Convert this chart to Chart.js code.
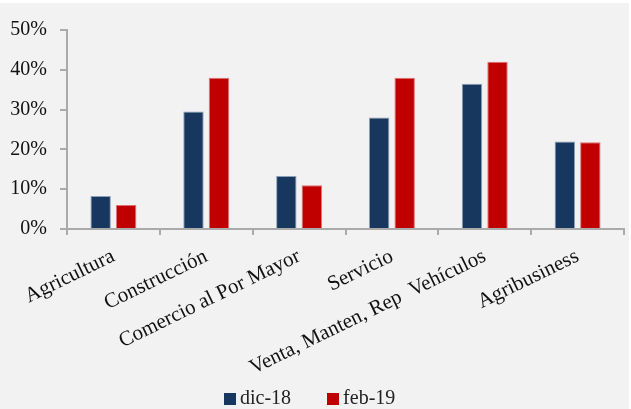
<!DOCTYPE html>
<html>
<head>
<meta charset="utf-8">
<script src="https://cdn.jsdelivr.net/npm/chart.js@4"></script>
<style>
  body { margin: 0; background: #ffffff; }
  #wrap { position: relative; width: 631px; height: 409px; }
  #legend { position: absolute; left: 224px; top: 386px; font: 20px 'Liberation Serif', 'DejaVu Serif', serif; color: #222; white-space: nowrap; }
  #legend span.item { display: inline-block; margin-right: 36px; }
  #legend span.box { display: inline-block; width: 12px; height: 12px; margin-right: 4px; vertical-align: -1px; }
</style>
</head>
<body>
<div id="wrap">
  <canvas id="myChart" width="631" height="409"></canvas>
  <div id="legend"></div>
</div>
<script>
const categories = ['Agricultura', 'Construcción', 'Comercio al Por Mayor', 'Servicio', 'Venta, Manten, Rep  Vehículos', 'Agribusiness'];
const dic18 = [8.3, 29.5, 13.3, 28.0, 36.5, 22.0];
const feb19 = [6.0, 38.0, 11.0, 38.0, 42.0, 21.8];
const seriesNames = ['dic-18', 'feb-19'];
const colors = ['#17375e', '#c00000'];

const serif = "'Liberation Serif', 'DejaVu Serif', serif";

// grey panel behind the chart, thin white edge on top and right like the original
const bgPlugin = {
  id: 'bg',
  beforeDraw(chart) {
    const c = chart.ctx;
    c.save();
    c.fillStyle = '#f2f2f2';
    c.fillRect(0, 3, chart.width - 2, chart.height - 3);
    c.restore();
  }
};

const ctx = document.getElementById('myChart');

const myChart = new Chart(ctx, {
  type: 'bar',
  data: {
    labels: categories,
    datasets: [{
      label: seriesNames[0],
      data: dic18,
      backgroundColor: colors[0],
      borderColor: '#8ea0b8',
      borderWidth: 1,
      borderSkipped: 'bottom'
    }, {
      label: seriesNames[1],
      data: feb19,
      backgroundColor: colors[1],
      borderColor: '#e07070',
      borderWidth: 1,
      borderSkipped: 'bottom'
    }]
  },
  plugins: [bgPlugin],
  options: {
    responsive: false,
    animation: false,
    layout: {
      padding: { top: 30, right: 7, left: 0, bottom: 0 }
    },
    datasets: {
      bar: { categoryPercentage: 0.55, barPercentage: 0.8 }
    },
    plugins: {
      legend: { display: false },
      tooltip: { enabled: false }
    },
    scales: {
      x: {
        offset: true,
        grid: {
          display: true,
          offset: true,
          drawOnChartArea: false,
          drawTicks: true,
          tickLength: 6,
          color: '#aaaaaa',
          lineWidth: 2
        },
        border: { display: true, color: '#aaaaaa', width: 2 },
        ticks: {
          font: { family: serif, size: 21 },
          color: '#111',
          minRotation: 26,
          maxRotation: 26,
          autoSkip: false,
          padding: 9
        },
        afterFit(scale) { scale.height = 180; }
      },
      y: {
        min: 0,
        max: 50,
        ticks: {
          stepSize: 10,
          font: { family: serif, size: 20 },
          color: '#111',
          padding: 13,
          callback: v => v + '%'
        },
        grid: {
          display: true,
          drawOnChartArea: false,
          drawTicks: true,
          tickLength: 7,
          color: '#aaaaaa',
          lineWidth: 2
        },
        border: { display: true, color: '#aaaaaa', width: 2 },
        afterFit(scale) { scale.width = 67; }
      }
    }
  }
});

// legend drawn as html so the spacing can follow the original
const legend = document.getElementById('legend');
seriesNames.forEach((name, i) => {
  const item = document.createElement('span');
  item.className = 'item';
  const box = document.createElement('span');
  box.className = 'box';
  box.style.background = colors[i];
  item.appendChild(box);
  item.appendChild(document.createTextNode(name));
  legend.appendChild(item);
});
</script>
</body>
</html>
